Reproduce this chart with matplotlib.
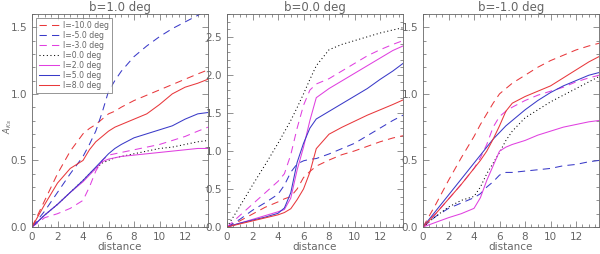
import numpy as np
import matplotlib.pyplot as plt
from matplotlib.ticker import MultipleLocator

# distance grid shared by all curves
dist = [0, 1, 2, 3, 4, 4.5, 5, 5.5, 6, 6.5, 7, 8, 9, 10, 11, 12, 13, 13.8]

lon_labels = ["l=-10.0 deg", "l=-5.0 deg", "l=-3.0 deg", "l=0.0 deg",
              "l=2.0 deg", "l=5.0 deg", "l=8.0 deg"]

# b = 1.0 deg
b_pos = [
    [0, 0.2, 0.4, 0.57, 0.7, 0.74, 0.77, 0.81, 0.85, 0.87, 0.9, 0.95, 0.99, 1.03, 1.07, 1.11, 1.15, 1.18],
    [0, 0.12, 0.26, 0.4, 0.53, 0.62, 0.72, 0.86, 1.02, 1.1, 1.17, 1.28, 1.36, 1.43, 1.49, 1.54, 1.59, 1.64],
    [0, 0.07, 0.1, 0.14, 0.2, 0.3, 0.42, 0.5, 0.54, 0.55, 0.56, 0.58, 0.6, 0.62, 0.65, 0.68, 0.72, 0.75],
    [0, 0.09, 0.17, 0.26, 0.35, 0.4, 0.44, 0.48, 0.5, 0.52, 0.53, 0.55, 0.57, 0.59, 0.6, 0.62, 0.64, 0.65],
    [0, 0.09, 0.17, 0.26, 0.34, 0.39, 0.44, 0.49, 0.51, 0.52, 0.53, 0.54, 0.55, 0.56, 0.57, 0.58, 0.59, 0.59],
    [0, 0.09, 0.17, 0.26, 0.35, 0.4, 0.45, 0.5, 0.55, 0.59, 0.62, 0.67, 0.7, 0.73, 0.76, 0.81, 0.85, 0.86],
    [0, 0.17, 0.33, 0.44, 0.5, 0.58, 0.64, 0.68, 0.72, 0.75, 0.77, 0.81, 0.85, 0.92, 1.0, 1.05, 1.08, 1.11],
]

# b = 0.0 deg
b_zero = [
    [0, 0.08, 0.17, 0.26, 0.33, 0.37, 0.4, 0.5, 0.65, 0.73, 0.8, 0.88, 0.95, 1.0, 1.06, 1.12, 1.17, 1.2],
    [0, 0.1, 0.22, 0.32, 0.43, 0.55, 0.72, 0.83, 0.87, 0.89, 0.9, 0.96, 1.03, 1.1, 1.2, 1.3, 1.4, 1.47],
    [0, 0.15, 0.3, 0.45, 0.6, 0.7, 0.95, 1.3, 1.6, 1.8, 1.88, 1.95, 2.05, 2.15, 2.25, 2.33, 2.4, 2.45],
    [0, 0.27, 0.55, 0.82, 1.1, 1.25, 1.4, 1.57, 1.75, 1.94, 2.12, 2.33, 2.4, 2.45, 2.5, 2.55, 2.59, 2.62],
    [0, 0.05, 0.1, 0.15, 0.2, 0.23, 0.38, 0.75, 1.05, 1.4, 1.7, 1.82, 1.92, 2.02, 2.12, 2.22, 2.32, 2.38],
    [0, 0.05, 0.09, 0.13, 0.18, 0.25, 0.45, 0.85, 1.1, 1.3, 1.42, 1.52, 1.62, 1.72, 1.82, 1.94, 2.05, 2.15],
    [0, 0.04, 0.08, 0.12, 0.16, 0.19, 0.24, 0.36, 0.5, 0.72, 1.03, 1.22, 1.31, 1.39, 1.47, 1.54, 1.61, 1.67],
]

# b = -1.0 deg
b_neg = [
    [0, 0.17, 0.35, 0.52, 0.68, 0.77, 0.85, 0.93, 1.0, 1.04, 1.08, 1.14, 1.2, 1.25, 1.29, 1.33, 1.36, 1.38],
    [0, 0.08, 0.14, 0.18, 0.22, 0.25, 0.3, 0.34, 0.39, 0.41, 0.41, 0.42, 0.43, 0.44, 0.46, 0.47, 0.49, 0.5],
    [0, 0.1, 0.21, 0.32, 0.44, 0.52, 0.62, 0.75, 0.83, 0.87, 0.9, 0.95, 0.99, 1.02, 1.05, 1.09, 1.12, 1.14],
    [0, 0.08, 0.15, 0.2, 0.23, 0.3, 0.4, 0.48, 0.56, 0.65, 0.72, 0.82, 0.88, 0.94, 0.99, 1.04, 1.09, 1.13],
    [0, 0.035, 0.07, 0.1, 0.14, 0.22, 0.35, 0.46, 0.57, 0.6, 0.62, 0.65, 0.69, 0.72, 0.75, 0.77, 0.79, 0.8],
    [0, 0.12, 0.24, 0.36, 0.48, 0.54, 0.6, 0.66, 0.71, 0.76, 0.8, 0.88, 0.95, 1.01, 1.06, 1.1, 1.14, 1.16],
    [0, 0.1, 0.21, 0.32, 0.44, 0.5, 0.57, 0.66, 0.76, 0.87, 0.93, 0.98, 1.02, 1.06, 1.12, 1.18, 1.24, 1.28],
]

panels = [("b=1.0 deg", b_pos, 1.6), ("b=0.0 deg", b_zero, 2.8), ("b=-1.0 deg", b_neg, 1.6)]

red, blue, mag = "#e8383c", "#3a3ac8", "#e040e0"
styles = [
    (red, (0, (7, 5))),
    (blue, (0, (7, 5))),
    (mag, (0, (7, 5))),
    ("black", (0, (1, 2.5))),
    (mag, "-"),
    (blue, "-"),
    (red, "-"),
]

grey = "#666666"
plt.rcParams["font.family"] = "DejaVu Sans"

fig = plt.figure(figsize=(6, 2.54), dpi=100)
lefts = [32, 227, 423]
for i, (title, curves, ymax) in enumerate(panels):
    ax = fig.add_axes([lefts[i] / 600, 27 / 254, 176 / 600, 213 / 254])
    for (c, ls), yv, lbl in zip(styles, curves, lon_labels):
        ax.plot(dist, yv, color=c, linestyle=ls, linewidth=0.75, label=lbl)
    ax.set_xlim(0, 13.8)
    ax.set_ylim(0, ymax)
    ax.xaxis.set_major_locator(MultipleLocator(2))
    ax.xaxis.set_minor_locator(MultipleLocator(0.5))
    ax.yaxis.set_major_locator(MultipleLocator(0.5))
    ax.yaxis.set_minor_locator(MultipleLocator(0.1))
    ax.yaxis.set_major_formatter(plt.FormatStrFormatter("%.1f"))
    ax.tick_params(which="both", direction="in", top=True, right=True,
                   colors=grey, labelsize=7.5, width=0.5)
    ax.tick_params(which="major", length=4)
    ax.tick_params(which="minor", length=2)
    for s in ax.spines.values():
        s.set_color(grey)
        s.set_linewidth(0.6)
    ax.set_title(title, fontsize=8.5, color=grey, pad=2)
    ax.set_xlabel("distance", fontsize=7.5, color=grey, labelpad=0)
    if i == 0:
        leg = ax.legend(loc="upper left", fontsize=5.6, handlelength=2.6,
                        labelspacing=0.12, borderpad=0.4, handletextpad=0.5,
                        fancybox=False, borderaxespad=0.5, labelcolor=grey)
        leg.get_frame().set_edgecolor(grey)
        leg.get_frame().set_linewidth(0.6)

fig.text(8 / 600, 0.5, r"$A_{Ks}$", rotation=90, fontsize=6, color=grey,
         ha="center", va="center")

fig.savefig("out.png", dpi=100)
